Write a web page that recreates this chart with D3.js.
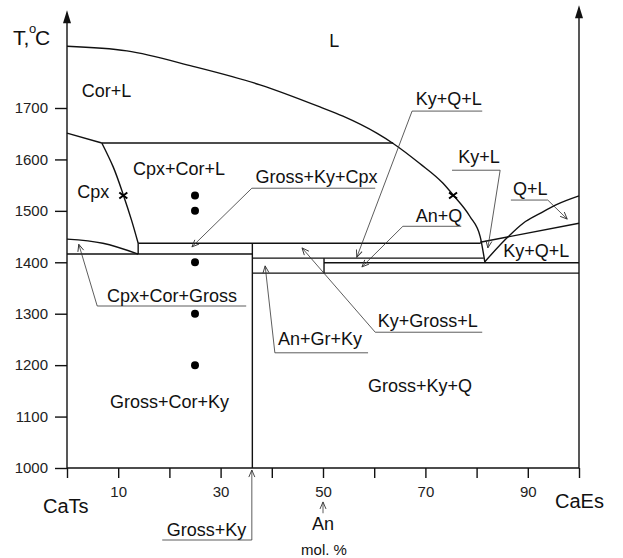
<!DOCTYPE html>
<html>
<head>
<meta charset="utf-8">
<script src="https://cdn.jsdelivr.net/npm/d3@7"></script>
<style>
  body { margin: 0; background: #fff; }
  svg { display: block; font-family: "Liberation Sans", Arial, sans-serif; }
  .phase { fill: none; stroke: #111; stroke-width: 1.4; }
  .leader { fill: none; stroke: #333; stroke-width: 0.8; }
  .lbl { font-size: 18px; fill: #111; }
  .tick text { font-size: 15px; fill: #222; }
  .tick line { stroke: #111; stroke-width: 1.4; }
</style>
</head>
<body>
<script>
// tick values
const tempTicks = [1000, 1100, 1200, 1300, 1400, 1500, 1600, 1700];
const molTicks = [0, 10, 20, 30, 40, 50, 60, 70, 80, 90, 100];
const molLabels = [10, 30, 50, 70, 90];

// liquidus (Cor / Ky field), mol.% CaEs vs T
const liqX = [0, 11.7, 24.6, 37.7, 49.4, 53.9, 60.5, 63.7, 68.9, 73.4, 75.4, 78.7, 80.7, 81.6];
const liqT = [1820, 1811, 1781, 1745, 1702, 1684, 1651, 1631, 1592, 1554, 1531, 1489, 1450, 1401];

// Cpx field boundaries
const cpxTopX = [0, 6.8];
const cpxTopT = [1651, 1632];
const cpxLiqX = [6.8, 9.0, 11.0, 12.6, 13.9];
const cpxLiqT = [1632, 1586, 1531, 1482, 1437];
const cpxLowX = [0, 7, 13.9];
const cpxLowT = [1445, 1437, 1416];

// quartz liquidus and Ky+L boundary
const qLiqX = [81.6, 86.2, 89.1, 92.4, 95.6, 100];
const qLiqT = [1401, 1450, 1476, 1495, 1512, 1529];
const kyLX = [80.7, 100];
const kyLT = [1439, 1476];

// isotherms and verticals: [x1, T1, x2, T2]
const segments = [
  [6.8, 1632, 63.7, 1632],
  [13.9, 1437, 80.8, 1437],
  [13.9, 1437, 13.9, 1416],
  [0, 1416, 36.2, 1416],
  [36.2, 1437, 36.2, 1000],
  [36.2, 1408, 81.4, 1408],
  [50.2, 1408, 50.2, 1379],
  [50.2, 1399, 100, 1399],
  [36.2, 1379, 100, 1379]
];

// experiment points
const dotX = [25, 25, 25, 25, 25];
const dotT = [1530, 1500, 1400, 1300, 1200];
const crossX = [11.0, 75.4];
const crossT = [1530, 1530];

// field labels
const labelText = ["L", "Cor+L", "Cpx+Cor+L", "Cpx", "Gross+Ky+Cpx", "Ky+Q+L", "Ky+L", "Q+L",
  "An+Q", "Ky+Q+L", "Cpx+Cor+Gross", "An+Gr+Ky", "Ky+Gross+L", "Gross+Ky+Q", "Gross+Cor+Ky", "Gross+Ky"];
const labelX = [51.2, 2.9, 12.9, 2.0, 36.8, 68.1, 76.4, 87.1, 68.1, 85.2, 7.8, 41.2, 60.7, 58.8, 8.4, 19.5];
const labelT = [1819, 1721, 1570, 1525, 1554, 1706, 1593, 1531, 1478, 1410, 1323, 1239, 1274, 1148, 1117, 868];

// leader lines: underline end, underline start, arrow tip
const leaders = [
  [[60.2, 1544], [36.1, 1544], [24.4, 1430]],
  [[81.1, 1694], [67.4, 1694], [56.6, 1410]],
  [[75.2, 1579], [84.6, 1579], [82.2, 1428]],
  [[86.7, 1521], [93.9, 1521], [97.7, 1484]],
  [[77.0, 1470], [65.6, 1470], [57.6, 1391]],
  [[35.0, 1315], [5.9, 1315], [2.3, 1435]],
  [[58.8, 1224], [40.6, 1224], [38.7, 1393]],
  [[81.1, 1264], [60.2, 1264], [45.9, 1428]],
  [[18.6, 860], [36.1, 860], [36.1, 996]],
  [[50, 912], [50, 934]]
];

const width = 623, height = 558;
const x = d3.scaleLinear().domain([0, 100]).range([67, 579]);
const y = d3.scaleLinear().domain([1000, 1700]).range([468, 108]);

const svg = d3.select("body").append("svg")
    .attr("width", width)
    .attr("height", height);

svg.append("rect").attr("width", width).attr("height", height).attr("fill", "#fff");

const defs = svg.append("defs");
defs.append("marker")
    .attr("id", "openArrow")
    .attr("viewBox", "-8 -4 9 8")
    .attr("refX", 0).attr("refY", 0)
    .attr("markerUnits", "userSpaceOnUse")
    .attr("markerWidth", 9).attr("markerHeight", 8)
    .attr("orient", "auto")
    .append("path")
    .attr("d", "M-7,-3L0,0L-7,3")
    .attr("fill", "none")
    .attr("stroke", "#333")
    .attr("stroke-width", 0.9);

// axes
const yAxis = d3.axisLeft(y).tickValues(tempTicks).tickSize(12).tickPadding(7).tickSizeOuter(0)
    .tickFormat(d3.format("d"));
const gy = svg.append("g").attr("transform", `translate(${x(0)},0)`).call(yAxis);
gy.select(".domain").remove();

const xAxis = d3.axisBottom(x).tickValues(molTicks).tickSize(10).tickPadding(8).tickSizeOuter(0)
    .tickFormat(d => molLabels.includes(d) ? d : "");
const gx = svg.append("g").attr("transform", `translate(0,${y(1000)})`).call(xAxis);
gx.select(".domain").remove();

svg.append("line")
    .attr("x1", x(0)).attr("x2", x(100))
    .attr("y1", y(1000)).attr("y2", y(1000))
    .attr("stroke", "#111").attr("stroke-width", 1.4);

// vertical axes with arrow heads
[[0, 1890], [100, 1900]].forEach(function(a) {
  svg.append("line")
      .attr("x1", x(a[0])).attr("x2", x(a[0]))
      .attr("y1", y(1000)).attr("y2", y(a[1]) + 8)
      .attr("stroke", "#111").attr("stroke-width", 1.4);
  const tx = x(a[0]), ty = y(a[1]);
  svg.append("path")
      .attr("d", `M${tx},${ty}L${tx - 4},${ty + 13}L${tx + 4},${ty + 13}Z`)
      .attr("fill", "#111");
});

// phase boundaries
const line = d3.line().x(d => x(d[0])).y(d => y(d[1]));
const curve = d3.line().x(d => x(d[0])).y(d => y(d[1])).curve(d3.curveMonotoneX);
const curveY = d3.line().x(d => x(d[0])).y(d => y(d[1])).curve(d3.curveMonotoneY);

svg.append("path").attr("class", "phase").attr("d", curve(d3.zip(liqX, liqT)));
svg.append("path").attr("class", "phase").attr("d", line(d3.zip(cpxTopX, cpxTopT)));
svg.append("path").attr("class", "phase").attr("d", curveY(d3.zip(cpxLiqX, cpxLiqT)));
svg.append("path").attr("class", "phase").attr("d", curve(d3.zip(cpxLowX, cpxLowT)));
svg.append("path").attr("class", "phase").attr("d", curve(d3.zip(qLiqX, qLiqT)));
svg.append("path").attr("class", "phase").attr("d", line(d3.zip(kyLX, kyLT)));

svg.selectAll(".seg")
    .data(segments)
    .enter()
    .append("line")
    .attr("class", "phase")
    .attr("x1", d => x(d[0])).attr("y1", d => y(d[1]))
    .attr("x2", d => x(d[2])).attr("y2", d => y(d[3]));

// dots
svg.selectAll(".dot")
    .data(d3.zip(dotX, dotT))
    .enter()
    .append("circle")
    .attr("cx", d => x(d[0]))
    .attr("cy", d => y(d[1]))
    .attr("r", 4)
    .attr("fill", "#000");

// crosses
svg.selectAll(".cross")
    .data(d3.zip(crossX, crossT))
    .enter()
    .append("path")
    .attr("d", d => {
      const cx = x(d[0]), cy = y(d[1]);
      return `M${cx - 4},${cy - 3}L${cx + 4},${cy + 3}M${cx - 4},${cy + 3}L${cx + 4},${cy - 3}`;
    })
    .attr("stroke", "#000")
    .attr("stroke-width", 2);

// leaders
svg.selectAll(".leader")
    .data(leaders)
    .enter()
    .append("path")
    .attr("class", "leader")
    .attr("d", d => line(d))
    .attr("marker-end", "url(#openArrow)");

// labels
svg.selectAll(".lbl")
    .data(labelText)
    .enter()
    .append("text")
    .attr("class", "lbl")
    .attr("x", (d, i) => x(labelX[i]))
    .attr("y", (d, i) => y(labelT[i]))
    .text(d => d);

// An marker and units
svg.append("text").attr("class", "lbl").attr("text-anchor", "middle")
    .attr("x", x(50)).attr("y", y(880)).text("An");
svg.append("text").attr("text-anchor", "middle").attr("font-size", 15).attr("fill", "#111")
    .attr("x", x(50.2)).attr("y", y(831)).text("mol. %");

// end members
svg.append("text").attr("font-size", 20).attr("fill", "#111")
    .attr("x", x(0) - 24).attr("y", y(1000) + 45).text("CaTs");
svg.append("text").attr("font-size", 20).attr("fill", "#111")
    .attr("x", x(100) - 24).attr("y", y(1000) + 40).text("CaEs");

// temperature title
const title = svg.append("g").attr("fill", "#111");
title.append("text").attr("font-size", 21).attr("x", x(0) - 54).attr("y", 45).text("T,");
title.append("text").attr("font-size", 13).attr("x", x(0) - 38).attr("y", 33).text("o");
title.append("text").attr("font-size", 21).attr("x", x(0) - 32).attr("y", 45).text("C");
</script>
</body>
</html>
